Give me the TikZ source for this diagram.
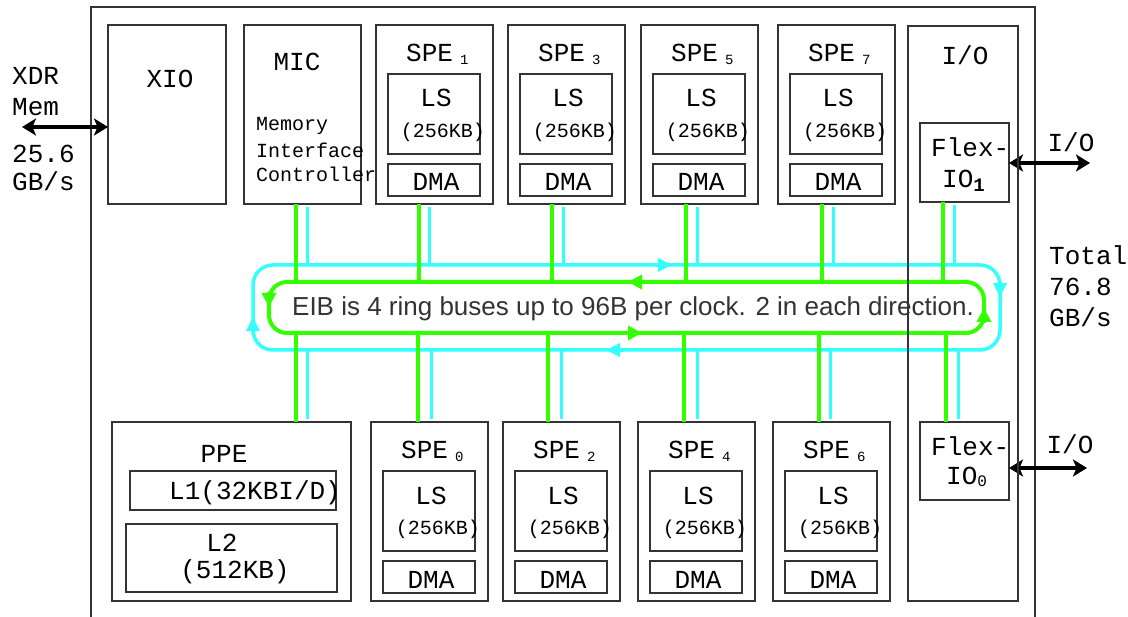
\documentclass[tikz,border=0pt]{standalone}
\usepackage{fontspec}
\setmonofont{Liberation Mono}
\newfontfamily\eibfont{Liberation Sans}
\usetikzlibrary{arrows.meta}
\definecolor{busgreen}{RGB}{51,255,0}
\definecolor{buscyan}{RGB}{51,255,255}
\definecolor{boxline}{RGB}{51,51,51}
\newcommand{\spesub}[1]{\hspace{7pt}\raisebox{-2.5pt}{\fontsize{14}{14}\selectfont #1}}
\tikzset{
  blk/.style={draw=boxline, line width=1.3pt, inner sep=0pt, outer sep=0pt},
  txt/.style={font=\ttfamily\fontsize{26}{26}\selectfont, inner sep=0pt, anchor=base},
  smalltxt/.style={font=\ttfamily\fontsize{20}{20}\selectfont, inner sep=0pt, anchor=base},
  gbus/.style={draw=busgreen, line width=4pt},
  cbus/.style={draw=buscyan, line width=3pt},
  gtip/.style={gbus, -{Triangle[length=14pt,width=14pt]}},
  ctip/.style={cbus, line width=3.5pt, -{Triangle[length=14pt,width=13pt]}},
  iolink/.style={line width=4.5pt, {Stealth[length=14pt,width=17pt,inset=3.5pt]}-{Stealth[length=14pt,width=17pt,inset=3.5pt]}}
}
\begin{document}
\begin{tikzpicture}[x=1pt, y=-1pt]
  \clip (0,0) rectangle (1128,617);
  \fill[white] (0,0) rectangle (1128,617);
  \draw[boxline, line width=1.3pt] (91,640) |- (1035,7) -- (1035,640);

  \node[blk, minimum width=118pt, minimum height=179pt] (xio) at (167,114.5) {};
  \node[txt] (xiol) at (170,88) {XIO};
  \node[blk, minimum width=117pt, minimum height=179pt] (mic) at (302.5,114.5) {};
  \node[txt] (micl) at (297,71) {MIC};
  \node[smalltxt, anchor=base west] (mic1) at (256,131) {Memory};
  \node[smalltxt, anchor=base west] (mic2) at (256,158) {Interface};
  \node[smalltxt, anchor=base west] (mic3) at (256,182) {Controller};

  \foreach \px/\py/\k in {376/25/1, 508/25/3, 641/25/5, 778/25/7, 371/422/0, 503/422/2, 638/422/4, 773/422/6}{
    \node[blk, minimum width=117pt, minimum height=179pt] (spe\k) at (\px+58.5,\py+89.5) {};
    \node[blk, minimum width=92pt, minimum height=80pt] (ls\k) at (\px+58,\py+89) {};
    \node[blk, minimum width=92pt, minimum height=32pt] (dma\k) at (\px+58,\py+155) {};
    \node[txt, anchor=base west] (spel\k) at (\px+30,\py+37) {SPE\spesub{\k}};
    \node[txt] (lsl\k) at (\px+60,\py+82) {LS};
    \node[smalltxt] (lskb\k) at (\px+67,\py+113) {(256KB)};
    \node[txt] (dmal\k) at (\px+60,\py+166) {DMA};
  }

  \node[blk, minimum width=239pt, minimum height=179pt] (ppe) at (231.5,511.5) {};
  \node[txt] (ppel) at (224,463) {PPE};
  \node[blk, minimum width=206pt, minimum height=39pt] (l1) at (233,490.5) {};
  \node[txt, anchor=base west] (l1l) at (169,500) {L1(32KBI/D)};
  \node[blk, minimum width=211pt, minimum height=68pt] (l2) at (231.5,558) {};
  \node[txt] (l2l) at (222,551) {L2};
  \node[txt] (l2kb) at (235,578) {(512KB)};

  \node[blk, minimum width=89pt, minimum height=79pt] (flex1) at (964.5,162.5) {};
  \node[txt, anchor=base west] (flex1a) at (931,157) {Flex-};
  \node[txt, anchor=base west] (flex1b) at (942,188) {IO\raisebox{-4pt}{\fontsize{19}{19}\selectfont\bfseries 1}};
  \node[blk, minimum width=89pt, minimum height=78pt] (flex0) at (964.5,461) {};
  \node[txt, anchor=base west] (flex0a) at (931,456) {Flex-};
  \node[txt, anchor=base west] (flex0b) at (946,485) {IO\raisebox{-2pt}{\fontsize{16}{16}\selectfont 0}};

  \node[txt, anchor=base west] (xdr1) at (12,85) {XDR};
  \node[txt, anchor=base west] (xdr2) at (12,116) {Mem};
  \node[txt, anchor=base west] (xdr3) at (12,163) {25.6};
  \node[txt, anchor=base west] (xdr4) at (12,191) {GB/s};
  \node[txt, anchor=base west] (tot1) at (1049,265) {Total};
  \node[txt, anchor=base west] (tot2) at (1049,296) {76.8};
  \node[txt, anchor=base west] (tot3) at (1049,327) {GB/s};
  \node[txt] (io1l) at (1071,152) {I/O};
  \node[txt] (io0l) at (1070,454) {I/O};

  \coordinate (xdr) at (22,127);
  \coordinate (io1) at (1090,163);
  \coordinate (io0) at (1087,468);
  \draw[iolink] (xdr) -- (xdr -| xio.west);
  \draw[iolink] (flex1.east |- io1) -- (io1);
  \draw[iolink] (flex0.east |- io0) -- (io0);

  \coordinate (ctop) at (0,265);
  \coordinate (cbot) at (0,350);
  \coordinate (gtop) at (0,282);
  \coordinate (gbot) at (0,333);
  \draw[buscyan, line width=3.5pt, rounded corners=20pt] (253,265) rectangle (1000,350);
  \foreach \u/\gx/\cx in {mic/296/307, spe1/419/429, spe3/552/563, spe5/686/697, spe7/822/833, flex1/943/954}{
    \draw[gbus] (\u.south -| \gx,0) -- (\gx,0 |- gtop);
    \draw[cbus, shorten <=3pt] (\u.south -| \cx,0) -- (\cx,0 |- ctop);
  }
  \foreach \u/\gx/\cx in {ppe/296/307, spe0/418/431, spe2/548/561, spe4/684/697, spe6/819/830, flex0/946/958}{
    \draw[gbus] (\gx,0 |- gbot) -- (\u.north -| \gx,0);
    \draw[cbus, shorten >=3pt] (\cx,0 |- cbot) -- (\u.north -| \cx,0);
  }
  \draw[busgreen, line width=4pt, rounded corners=18pt] (269,282) rectangle (984,333);
  \node[font=\eibfont\fontsize{26}{26}\selectfont, text=black!80, inner sep=0pt, anchor=base] (eib) at (633,316) {EIB is 4 ring buses up to 96B per clock. 2 in each direction.};

  \draw[ctip] (655,265) -- (672,265);
  \draw[ctip] (1000,282) -- (1000,297);
  \draw[ctip] (624,350) -- (606,350);
  \draw[ctip] (253,332) -- (253,317);
  \draw[gtip] (646,282) -- (628,282);
  \draw[gtip] (269,292) -- (269,307);
  \draw[gtip] (624,333) -- (642,333);
  \draw[gtip] (984,323) -- (984,308);

  \node[blk, minimum width=110pt, minimum height=575pt] (iobox) at (963,313.5) {};
  \node[txt] (iol) at (965,65) {I/O};
\end{tikzpicture}
\end{document}
